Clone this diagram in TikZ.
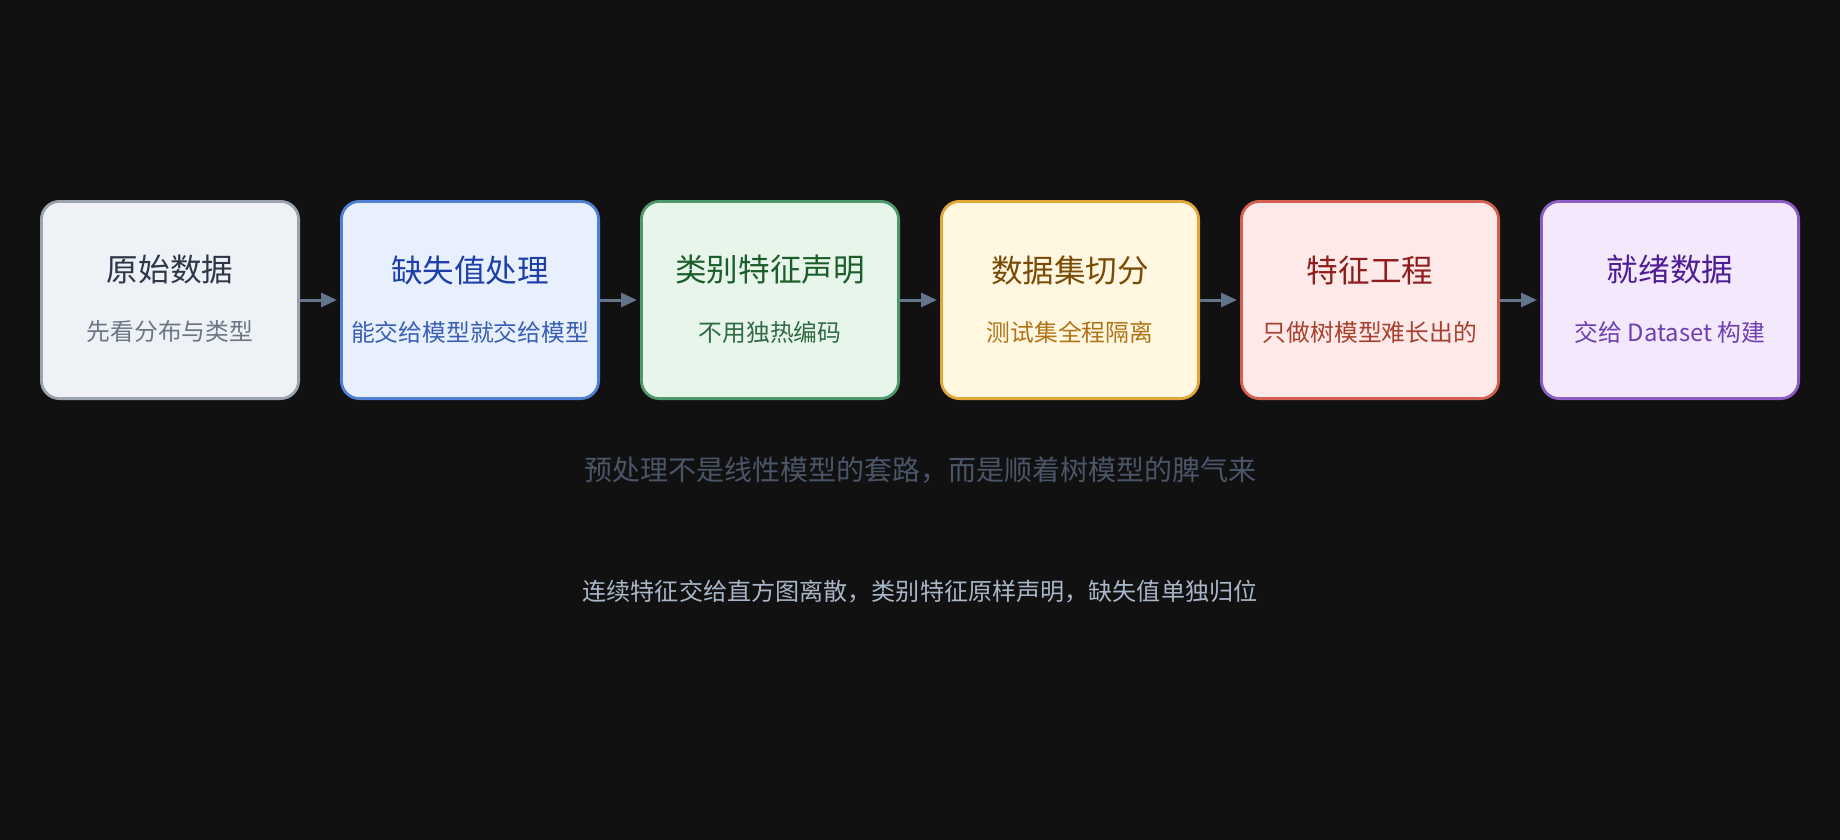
\documentclass[tikz,border=0pt]{standalone}
\usepackage{fontspec}
\setmainfont{Noto Sans CJK SC}
\usetikzlibrary{arrows.meta}
\definecolor{bg}{HTML}{111111}
\definecolor{arrowc}{HTML}{64748B}
\definecolor{fA}{HTML}{EEF2F7}\definecolor{dA}{HTML}{9AA3AD}\definecolor{tA}{HTML}{2D3748}\definecolor{sA}{HTML}{6B7785}
\definecolor{fB}{HTML}{E8F0FE}\definecolor{dB}{HTML}{4F7FD6}\definecolor{tB}{HTML}{1E3FA8}\definecolor{sB}{HTML}{3B5FB5}
\definecolor{fC}{HTML}{E8F5EA}\definecolor{dC}{HTML}{4C9A6A}\definecolor{tC}{HTML}{1B5E2A}\definecolor{sC}{HTML}{2F6B45}
\definecolor{fD}{HTML}{FFF7DF}\definecolor{dD}{HTML}{E0A63A}\definecolor{tD}{HTML}{7A4A06}\definecolor{sD}{HTML}{B07418}
\definecolor{fE}{HTML}{FDEAE8}\definecolor{dE}{HTML}{D45F4E}\definecolor{tE}{HTML}{8F1D1D}\definecolor{sE}{HTML}{A8402F}
\definecolor{fF}{HTML}{F4E8FD}\definecolor{dF}{HTML}{8B5DC9}\definecolor{tF}{HTML}{4C1D95}\definecolor{sF}{HTML}{6D3FB0}
\definecolor{capA}{HTML}{4A5568}
\definecolor{capB}{HTML}{A9B6C8}
\tikzset{
  stagebox/.style={rectangle, rounded corners=18pt, line width=2.8pt,
    minimum width=257.2pt, minimum height=197.2pt, inner sep=0pt},
  titletext/.style={inner sep=0pt, font=\fontsize{31.6}{31.6}\selectfont},
  subtext/.style={inner sep=0pt, font=\fontsize{23.8}{23.8}\selectfont},
  arr/.style={draw=arrowc, line width=3pt, -{Triangle[length=16pt,width=14pt]}, shorten >=3pt},
  capone/.style={inner sep=0pt, text=capA, font=\fontsize{28}{28}\selectfont},
  captwo/.style={inner sep=0pt, text=capB, font=\fontsize{24.1}{24.1}\selectfont}
}
\begin{document}
\begin{tikzpicture}[x=1pt,y=-1pt]
\fill[bg] (0,0) rectangle (1840,840);
\useasboundingbox (0,0) rectangle (1840,840);
% boxes
\node[stagebox, fill=fA, draw=dA] (b1) at (170,300) {};
\node[stagebox, fill=fB, draw=dB] (b2) at (470,300) {};
\node[stagebox, fill=fC, draw=dC] (b3) at (770,300) {};
\node[stagebox, fill=fD, draw=dD] (b4) at (1070,300) {};
\node[stagebox, fill=fE, draw=dE] (b5) at (1370,300) {};
\node[stagebox, fill=fF, draw=dF] (b6) at (1670,300) {};
% titles
\node[titletext, text=tA] (t1) at (170,270) {原始数据};
\node[titletext, text=tB] (t2) at (470,270) {缺失值处理};
\node[titletext, text=tC] (t3) at (770,270) {类别特征声明};
\node[titletext, text=tD] (t4) at (1070,270) {数据集切分};
\node[titletext, text=tE] (t5) at (1370,270) {特征工程};
\node[titletext, text=tF] (t6) at (1670,270) {就绪数据};
% subtitles
\node[subtext, text=sA] (s1) at (170,332) {先看分布与类型};
\node[subtext, text=sB] (s2) at (470,332) {能交给模型就交给模型};
\node[subtext, text=sC] (s3) at (770,332) {不用独热编码};
\node[subtext, text=sD] (s4) at (1070,332) {测试集全程隔离};
\node[subtext, text=sE] (s5) at (1370,332) {只做树模型难长出的};
\node[subtext, text=sF] (s6) at (1670,332) {交给 Dataset 构建};
% arrows
\draw[arr] (b1.east) -- (b2.west);
\draw[arr] (b2.east) -- (b3.west);
\draw[arr] (b3.east) -- (b4.west);
\draw[arr] (b4.east) -- (b5.west);
\draw[arr] (b5.east) -- (b6.west);
% captions
\node[capone] (c1) at (920,470) {预处理不是线性模型的套路，而是顺着树模型的脾气来};
\node[captwo] (c2) at (920,592) {连续特征交给直方图离散，类别特征原样声明，缺失值单独归位};
\end{tikzpicture}
\end{document}
